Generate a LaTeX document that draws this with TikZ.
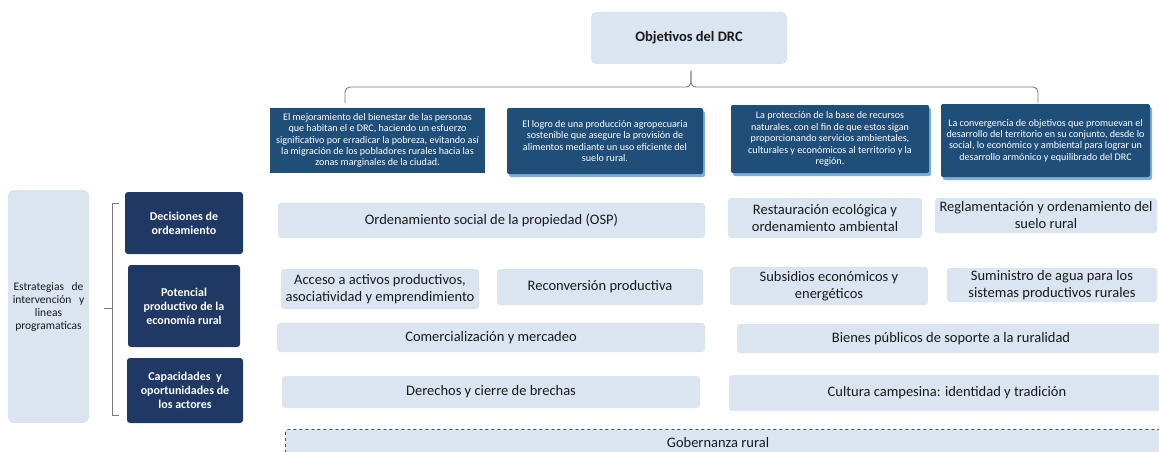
\documentclass[tikz,border=0pt]{standalone}
\usepackage{fontspec}
\setmainfont{Carlito}
\usetikzlibrary{shadows}
\definecolor{lightbox}{RGB}{219,229,241}
\definecolor{objblue}{RGB}{31,78,121}
\definecolor{navy}{RGB}{31,56,100}
\definecolor{shadowblue}{RGB}{91,155,213}
\definecolor{bracegray}{RGB}{120,120,120}
\begin{document}
\begin{tikzpicture}[x=1pt,y=-1pt,
  lbox/.style={fill=lightbox, draw=none, rounded corners=3pt, align=center, inner sep=1pt, text=black!90, font=\fontsize{14.5}{17}\selectfont},
  objbox/.style={fill=objblue, draw=none, align=center, inner sep=0.5pt, text=white, font=\fontsize{10.1}{11.4}\selectfont},
  shbox/.style={objbox, rounded corners=2pt, drop shadow={shadow xshift=2pt, shadow yshift=-3pt, fill=shadowblue, opacity=0.8}},
  navybox/.style={fill=navy, draw=none, rounded corners=3pt, align=center, inner sep=1pt, text=white, font=\bfseries\fontsize{12}{14}\selectfont},
  brace/.style={draw=bracegray, line width=0.9pt}
]
\useasboundingbox (0,0) rectangle (1159,452);

% Title
\node[lbox, rounded corners=5pt, minimum width=196pt, minimum height=52pt, font=\bfseries\fontsize{14.5}{17}\selectfont] (obj) at (689,38) {Objetivos del DRC};

% Objective boxes
\node[objbox, minimum width=215pt, minimum height=65pt] (o1) at (377.5,140.5) {El mejoramiento del bienestar de las personas\\que habitan el e DRC, haciendo un esfuerzo\\significativo por erradicar la pobreza, evitando así\\la migración de los pobladores rurales hacia las\\zonas marginales de la ciudad.};
\node[shbox, minimum width=196pt, minimum height=66pt] (o2) at (605,141) {El logro de una producción agropecuaria\\sostenible que asegure la provisión de\\alimentos mediante un uso eficiente del\\suelo rural.};
\node[shbox, minimum width=198pt, minimum height=68pt] (o3) at (830,139) {La protección de la base de recursos\\naturales, con el fin de que estos sigan\\proporcionando servicios ambientales,\\culturales y económicos al territorio y la\\región.};
\node[shbox, minimum width=209pt, minimum height=73pt] (o4) at (1045.5,140.5) {La convergencia de objetivos que promuevan el\\desarrollo del territorio en su conjunto, desde lo\\social, lo económico y ambiental para lograr un\\desarrollo armónico y equilibrado del DRC};

% Top brace
\coordinate (bl) at (345,103);
\coordinate (br) at (1038,103);
\draw[brace] (bl) -- (345,92) to[out=90,in=180] (350,87) -- (686,87) to[out=0,in=-90] (691,70) to[out=-90,in=180] (696,87) -- (1033,87) to[out=0,in=90] (1038,92) -- (br);

% Left column
\node[lbox, rounded corners=6pt, minimum width=81pt, minimum height=233pt, text width=78pt, font=\fontsize{11.5}{13}\selectfont] (estr) at (48.5,306.5) {Estrategias\ \ de\\intervención\ \ y\\lineas\\programaticas};

\node[navybox, minimum width=118pt, minimum height=62pt] (dec) at (184,223) {Decisiones de\\ordeamiento};
\node[navybox, minimum width=112pt, minimum height=82pt] (pot) at (184,306) {Potencial\\productivo de la\\economía rural};
\node[navybox, minimum width=116pt, minimum height=65pt] (cap) at (185,390.5) {Capacidades\ \ y\\oportunidades de\\los actores};

% Left bracket
\draw[brace, line width=0.8pt] (119,203) -- (112,203) -- (112,415) -- (119,415);
\draw[brace, line width=0.8pt] (104,308) -- (112,308);

% Middle / right boxes
\node[lbox, minimum width=427pt, minimum height=35pt] (osp) at (491.5,220.5) {Ordenamiento social de la propiedad (OSP)};
\node[lbox, minimum width=198pt, minimum height=40pt] (acc) at (380,289) {Acceso a activos productivos,\\asociatividad y emprendimiento};
\node[lbox, minimum width=206pt, minimum height=36pt] (rec) at (600,287) {Reconversión productiva};
\node[lbox, minimum width=194pt, minimum height=40pt] (rest) at (825,218) {Restauración ecológica y\\ordenamiento ambiental};
\node[lbox, minimum width=222pt, minimum height=35pt] (regl) at (1046,215.5) {Reglamentación y ordenamiento del\\suelo rural};
\node[lbox, minimum width=198pt, minimum height=38pt] (sub) at (829,286) {Subsidios económicos y\\energéticos};
\node[lbox, minimum width=210pt, minimum height=34pt] (sum) at (1052,285) {Suministro de agua para los\\sistemas productivos rurales};
\node[lbox, minimum width=428pt, minimum height=29pt] (com) at (491,337.5) {Comercialización y mercadeo};
\node[lbox, minimum width=418pt, minimum height=32pt] (der) at (491,392) {Derechos y cierre de brechas};
\node[lbox, minimum width=428pt, minimum height=29pt] (bien) at (951,338.5) {Bienes públicos de soporte a la ruralidad};
\node[lbox, minimum width=436pt, minimum height=36pt] (cult) at (947,393) {Cultura campesina: identidad y tradición};

% Gobernanza
\node[lbox, draw=black!70, dashed, line width=0.8pt, minimum width=890pt, minimum height=36pt, anchor=north west] (gob) at (285,429) {};
\node[font=\fontsize{14.5}{17}\selectfont, text=black!90] (gobt) at (718,443) {Gobernanza rural};
\end{tikzpicture}
\end{document}
